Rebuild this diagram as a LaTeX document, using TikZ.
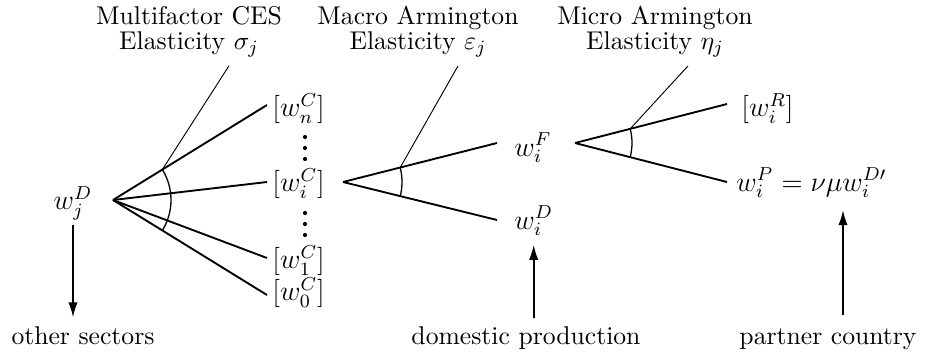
\documentclass[tikz,border=0pt]{standalone}
\usepackage{amsmath}
\usetikzlibrary{arrows.meta, calc}

\begin{document}
\begin{tikzpicture}[
    x=0.015cm, y=0.015cm,
    every node/.style={inner sep=0pt, font=\fontsize{10.95}{10.7}\selectfont},
    title/.style={align=center},
    good/.style={font=\fontsize{12}{14}\selectfont},
    input/.style={good, anchor=west},
    fan/.style={line width=0.8pt},
    pointer/.style={line width=0.4pt},
    elast/.style={line width=0.55pt},
    arrow/.style={-{Latex[length=6.5pt, width=4pt]}, line width=0.8pt}
]
\useasboundingbox (0,0) rectangle (936,-353);

% nesting points
\coordinate (cesNest) at (113,-200);
\coordinate (macroNest) at (343,-182);
\coordinate (microNest) at (575,-143);

% elasticity titles
\node[title] (cesTitle) at (189,-32) {Multifactor CES \\ Elasticity $\sigma_j$};
\node[title] (macroTitle) at (418,-32) {Macro Armington \\ Elasticity $\varepsilon_j$};
\node[title] (microTitle) at (655,-32) {Micro Armington \\ Elasticity $\eta_j$};

% goods
\node[good] (wjD) at (73,-203) {$w_j^D$};
\node[input] (wnC) at (272,-109) {$[w_n^C]$};
\node[input] (wiC) at (272,-184) {$[w_i^C]$};
\node[input] (w1C) at (272,-261) {$[w_1^C]$};
\node[input] (w0C) at (272,-293) {$[w_0^C]$};
\node[input] (wiF) at (514,-148) {$w_i^F$};
\node[input] (wiD) at (514,-221) {$w_i^D$};
\node[input] (wiR) at (741,-109) {$[w_i^R]$};
\node[input] (wiP) at (736,-183) {$w_i^P = \nu\mu w_i^{D\prime}$};

% sources
\node[anchor=base] (others) at (83,-344) {other sectors};
\node[anchor=base] (domestic) at (526,-344) {domestic production};
\node[anchor=base] (partner) at (828,-344) {partner country};
\coordinate (partnerTip) at (843,-210);

% multifactor nest
\draw[fan] (cesNest) -- ([shift={(-5,4)}]wnC.west);
\draw[fan] (cesNest) -- ([shift={(-5,2)}]wiC.west);
\draw[fan] (cesNest) -- ([shift={(-5,3)}]w1C.west);
\draw[fan] (cesNest) -- ([shift={(-5,-2)}]w0C.west);
\foreach \y in {-137,-148,-159,-213,-224,-235}
    \fill (305,\y) circle[radius=0.9pt];
\draw[elast] ([shift={(31.7:0.87cm)}]cesNest) arc[start angle=31.7, end angle=-31.7, radius=0.87cm];
\draw[pointer] ([shift={(31.7:0.87cm)}]cesNest) -- ([shift={(40,-8)}]cesTitle.south);

% macro armington nest
\draw[fan] (macroNest) -- ([shift={(-17,5)}]wiF.west);
\draw[fan] (macroNest) -- ([shift={(-17,1)}]wiD.west);
\draw[elast] ([shift={(14.2:0.885cm)}]macroNest) arc[start angle=14.2, end angle=-14.2, radius=0.885cm];
\draw[pointer] ([shift={(14.2:0.885cm)}]macroNest) -- ([shift={(40,-8)}]macroTitle.south);

% micro armington nest
\draw[fan] (microNest) -- ([shift={(-14,5)}]wiR.west);
\draw[fan] (microNest) -- ([shift={(-9,1)}]wiP.west);
\draw[elast] ([shift={(14.4:0.855cm)}]microNest) arc[start angle=14.4, end angle=-14.4, radius=0.855cm];
\draw[pointer] ([shift={(14.4:0.855cm)}]microNest) -- ([shift={(33,-8)}]microTitle.south);

% flows
\draw[arrow, shorten <=2pt, shorten >=3.5pt] (wjD) -- (wjD |- others.north);
\draw[arrow, shorten <=3.5pt, shorten >=3.5pt] (domestic.north -| wiD) -- (wiD);
\draw[arrow, shorten <=5.5pt] (partner.north -| partnerTip) -- (partnerTip);

\end{tikzpicture}
\end{document}
